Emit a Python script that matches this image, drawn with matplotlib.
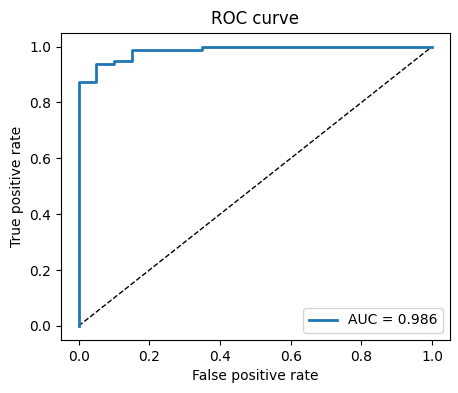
import matplotlib
matplotlib.use('Agg')
import matplotlib.pyplot as plt

fpr = [0.0, 0.0, 0.05, 0.05, 0.10, 0.10, 0.15, 0.15, 0.35, 0.35, 1.0]
tpr = [0.0, 0.875, 0.875, 0.9375, 0.9375, 0.95, 0.95, 0.9875, 0.9875, 1.0, 1.0]
auc_value = 0.986

fig = plt.figure(figsize=(4.58, 3.93), dpi=100)
ax = fig.add_axes([0.133, 0.135, 0.849, 0.782])

ax.plot([0, 1], [0, 1], 'k--', linewidth=1)
ax.plot(fpr, tpr, linewidth=2, color='#1f77b4', label=f'AUC = {auc_value:.3f}')

ax.set_xlabel('False positive rate')
ax.set_ylabel('True positive rate')
ax.set_title('ROC curve')
ax.legend(loc='lower right')

fig.savefig('out.png')
plt.close()
